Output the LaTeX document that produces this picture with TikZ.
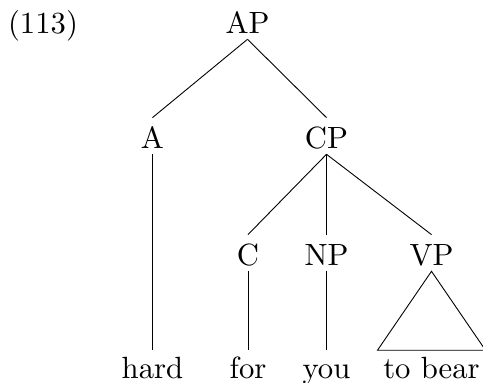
\documentclass[tikz,border=0pt]{standalone}
\begin{document}
\begin{tikzpicture}[x=1pt,y=-1pt,line width=0.9pt,
  lbl/.style={scale=3.07,inner sep=0pt,anchor=base,text height=9.45pt,text depth=1.6pt},
  leaf/.style={lbl,text height=8.6pt}]
\useasboundingbox (0,0) rectangle (483,383);
% example number
\node[lbl] (num) at (43,33) {(113)};
% tree nodes
\node[lbl] (AP) at (247.5,33) {AP};
\node[lbl] (A)  at (152.5,148) {A};
\node[lbl] (CP) at (326.5,148) {CP};
\node[lbl] (C)  at (248,265) {C};
\node[lbl] (NP) at (326.5,265) {NP};
\node[lbl] (VP) at (431.5,265) {VP};
% leaves
\node[leaf] (hard) at (152.5,378) {hard};
\node[leaf] (for)  at (248,378) {for};
\node[leaf] (you)  at (326.5,378) {you};
\node[leaf] (bear) at (431.5,378) {to bear};
% branches
\draw (AP.south) -- (A.north);
\draw (AP.south) -- (CP.north);
\draw (A.south) -- (hard.north);
\draw (CP.south) -- (C.north);
\draw (CP.south) -- (NP.north);
\draw (CP.south) -- (VP.north);
\draw (C.south) -- (for.north);
\draw (NP.south) -- (you.north);
% roof over the VP
\draw (VP.south) -- ([xshift=-54pt]bear.north) -- ([xshift=54pt]bear.north) -- cycle;
\end{tikzpicture}
\end{document}
